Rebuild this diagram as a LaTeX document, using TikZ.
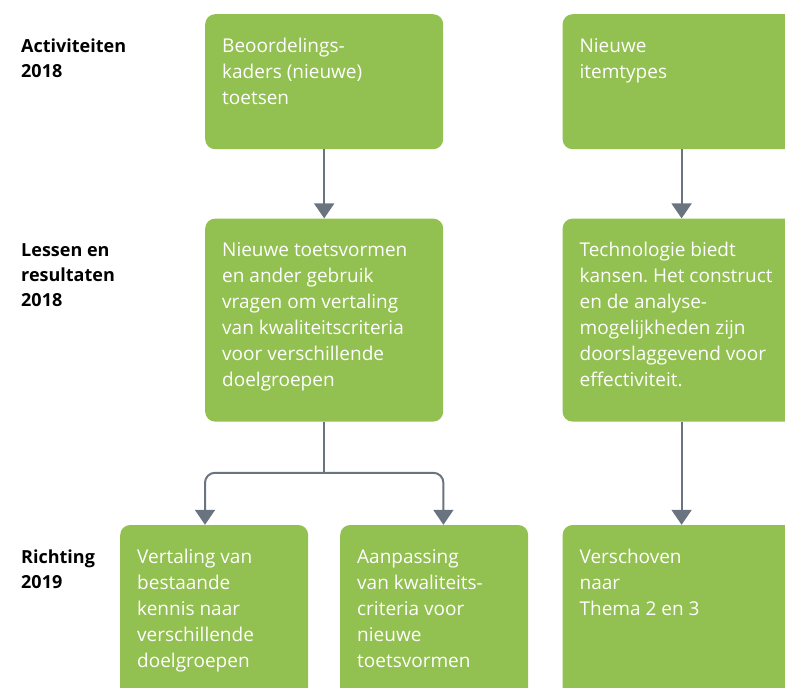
\documentclass[tikz,border=0pt]{standalone}
\usepackage{fontspec}
\setmainfont{Open Sans}
\usepackage{tikz}
\usetikzlibrary{positioning}
\usetikzlibrary{arrows.meta}
\frenchspacing
\definecolor{boxgreen}{RGB}{146,192,81}
\definecolor{linegray}{RGB}{106,116,128}
\tikzset{
    flow chart/.style={
            x=1pt,y=-1pt,
            greenbox/.style={fill=boxgreen,rounded corners=10pt,inner sep=0pt,
                text=white,font=\fontsize{19}{26}\selectfont},
            rowlabel/.style={anchor=base west,inner sep=0pt,
                font=\fontsize{18}{25}\selectfont\bfseries},
            arrow/.style={-{Triangle[width=20pt,length=15pt]},linegray,line width=2pt},
            stem/.style={linegray,line width=2pt}
        }
    }
% box contents: width, height, text (first baseline 38pt below the top)
\newcommand{\boxtxt}[3]{\parbox[c][#2][t]{#1}{\raggedright\leftskip=17pt
    \rule{0pt}{38pt}#3}}
\newcommand{\rowtxt}[1]{\parbox[t]{160pt}{\raggedright #1}}

\begin{document}
\begin{tikzpicture}[flow chart]
    \clip (0,0) rectangle (785,688);
    % row labels
    \node[rowlabel] (act) at (21,52) {\rowtxt{Activiteiten\\2018}};
    \node[rowlabel] (les) at (21,256) {\rowtxt{Lessen en\\resultaten\\2018}};
    \node[rowlabel] (ric) at (21,563) {\rowtxt{Richting\\2019}};
    % boxes
    \node[greenbox, anchor=north west] (kaders) at (205,14)
        {\boxtxt{238pt}{135pt}{Beoordelings-\\kaders (nieuwe)\\toetsen}};
    \node[greenbox] (items) [right=119pt of kaders]
        {\boxtxt{238pt}{135pt}{Nieuwe\\itemtypes}};
    \node[greenbox] (vormen) [below=69pt of kaders]
        {\boxtxt{238pt}{203pt}{Nieuwe toetsvormen\\en ander gebruik\\vragen om vertaling\\van kwaliteitscriteria\\voor verschillende\\doelgroepen}};
    \node[greenbox] (techn) [below=69pt of items]
        {\boxtxt{238pt}{203pt}{Technologie biedt\\kansen. Het construct\\en de analyse-\\mogelijkheden zijn\\doorslaggevend voor\\effectiviteit.}};
    \node[greenbox] (vertaling) [below=103pt of vormen, xshift=-110pt]
        {\boxtxt{188pt}{180pt}{Vertaling van\\bestaande\\kennis naar\\verschillende\\doelgroepen}};
    \node[greenbox] (aanpassing) [below=103pt of vormen, xshift=110pt]
        {\boxtxt{188pt}{180pt}{Aanpassing\\van kwaliteits-\\criteria voor\\nieuwe\\toetsvormen}};
    \node[greenbox] (thema) [below=103pt of techn]
        {\boxtxt{238pt}{180pt}{Verschoven\\naar\\Thema 2 en 3}};
    % connectors
    \draw[arrow] (kaders) -- (vormen);
    \draw[arrow] (items) -- (techn);
    \draw[arrow] (techn) -- (thema);
    \coordinate[below=51pt of vormen.south] (split);
    \draw[stem] (vormen) -- (split);
    \draw[arrow, rounded corners=10pt] (split) -| (vertaling.north -| vormen.west);
    \draw[arrow, rounded corners=10pt] (split) -| (aanpassing.north -| vormen.east);
\end{tikzpicture}
\end{document}
